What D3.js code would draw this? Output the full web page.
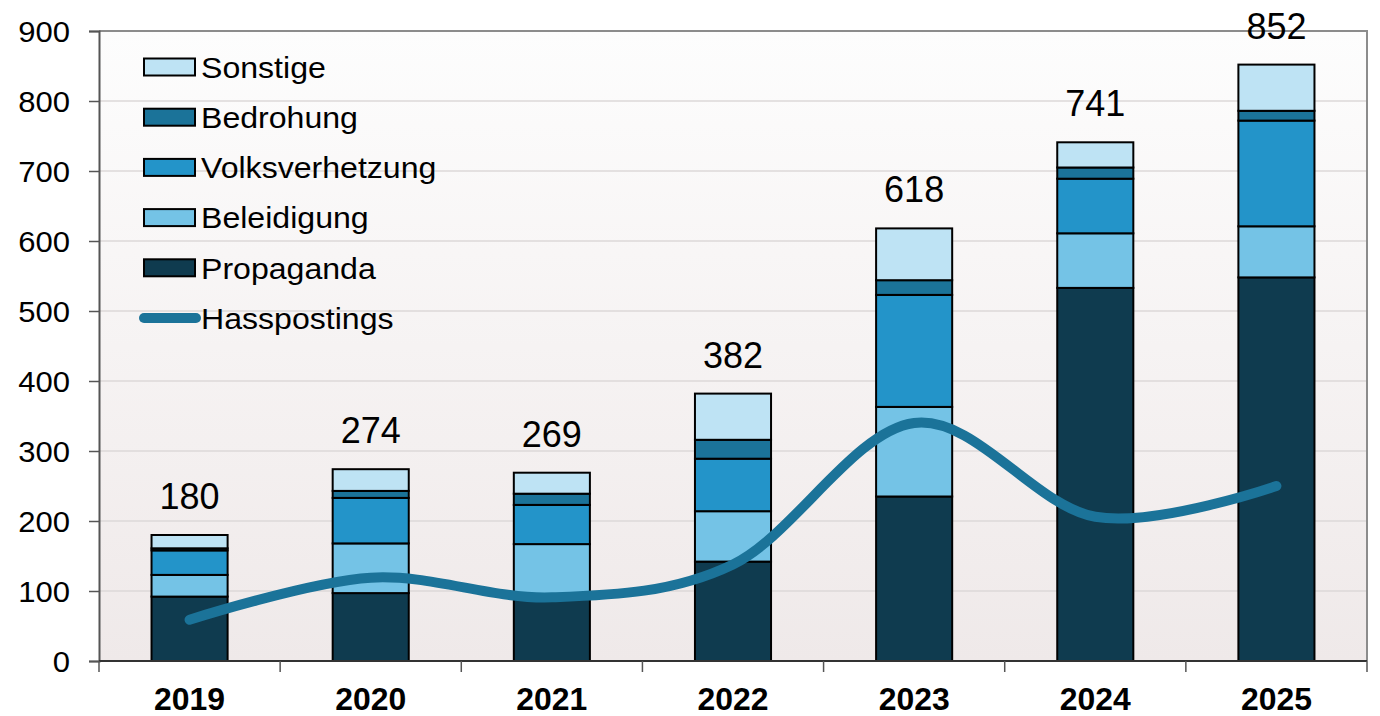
<!DOCTYPE html>
<html>
<head>
<meta charset="utf-8">
<script src="https://cdn.jsdelivr.net/npm/d3@7/dist/d3.min.js"></script>
<style>
  html, body { margin: 0; padding: 0; background: #ffffff; }
  svg { display: block; font-family: "Liberation Sans", Arial, sans-serif; }
</style>
</head>
<body>
<svg id="chart" width="1380" height="716"></svg>
<script>
const years = ["2019", "2020", "2021", "2022", "2023", "2024", "2025"];
const propaganda = [92, 97, 90, 142, 235, 533, 548];
const beleidigung = [31, 71, 77, 72, 128, 78, 73];
const volksverhetzung = [35, 65, 56, 75, 160, 78, 151];
const bedrohung = [3, 10, 16, 27, 21, 16, 14];
const sonstige = [19, 31, 30, 66, 74, 36, 66];
const totals = [180, 274, 269, 382, 618, 741, 852];
const hasspostings = [59, 119, 91, 138, 340, 206, 250];
const yTicks = [0, 100, 200, 300, 400, 500, 600, 700, 800, 900];

const seriesNames = ["Propaganda", "Beleidigung", "Volksverhetzung", "Bedrohung", "Sonstige"];
const seriesValues = [propaganda, beleidigung, volksverhetzung, bedrohung, sonstige];
const colors = {
  Propaganda: "#0f3b4f",
  Beleidigung: "#74c3e6",
  Volksverhetzung: "#2394c9",
  Bedrohung: "#1b7399",
  Sonstige: "#bee3f4"
};
const lineColor = "#1b7399";
const SX = 1.07; // horizontal stretch of text seen in the reference

const svg = d3.select("#chart");
const mLeft = 99, mRight = 1367, mTop = 31, mBottom = 661;

const x = d3.scaleBand().domain(years).range([mLeft, mRight]).paddingInner(0.58).paddingOuter(0.29);
const y = d3.scaleLinear().domain([0, 900]).range([mBottom, mTop]);

function stretch(sel, sx) {
  sel.each(function () {
    const t = d3.select(this);
    const tx = +t.attr("x") || 0, ty = +t.attr("y") || 0;
    t.attr("x", null).attr("y", null)
      .attr("transform", `translate(${tx},${ty}) scale(${sx},1)`);
  });
}

// background gradient
const defs = svg.append("defs");
const grad = defs.append("linearGradient").attr("id", "bg").attr("x1", 0).attr("y1", 0).attr("x2", 0).attr("y2", 1);
grad.append("stop").attr("offset", "0%").attr("stop-color", "#fdfdfd");
grad.append("stop").attr("offset", "100%").attr("stop-color", "#efe9e9");
svg.append("rect").attr("x", mLeft).attr("y", mTop).attr("width", mRight - mLeft).attr("height", mBottom - mTop).attr("fill", "url(#bg)");

// gridlines
svg.append("g").selectAll("line").data(yTicks.filter(d => d > 0 && d < 900)).join("line")
  .attr("x1", mLeft).attr("x2", mRight)
  .attr("y1", d => y(d)).attr("y2", d => y(d))
  .attr("stroke", "#dcd8d8").attr("stroke-width", 1.5);

// plot border top & right
svg.append("path")
  .attr("d", `M${mLeft},${mTop}H${mRight}V${mBottom}`)
  .attr("fill", "none").attr("stroke", "#8c8c8c").attr("stroke-width", 2);

// stacked bars
const table = years.map((yr, i) => {
  const o = { year: yr };
  seriesNames.forEach((n, k) => o[n] = seriesValues[k][i]);
  return o;
});
const stacked = d3.stack().keys(seriesNames)(table);
svg.append("g").selectAll("g").data(stacked).join("g")
  .attr("fill", d => colors[d.key])
  .selectAll("rect").data(d => d).join("rect")
  .attr("x", d => x(d.data.year))
  .attr("width", x.bandwidth())
  .attr("y", d => y(d[1]))
  .attr("height", d => y(d[0]) - y(d[1]))
  .attr("stroke", "#000").attr("stroke-width", 2);

// total labels
svg.append("g").selectAll("text").data(years).join("text")
  .attr("x", d => x(d) + x.bandwidth() / 2)
  .attr("y", (d, i) => y(totals[i]) - 26)
  .attr("text-anchor", "middle")
  .attr("font-size", 36)
  .attr("fill", "#000")
  .text((d, i) => totals[i]);

// line
const line = d3.line()
  .x((d, i) => x(years[i]) + x.bandwidth() / 2)
  .y(d => y(d))
  .curve(d3.curveCardinal.tension(0));
svg.append("path").datum(hasspostings)
  .attr("d", line)
  .attr("fill", "none").attr("stroke", lineColor).attr("stroke-width", 10)
  .attr("stroke-linecap", "round").attr("stroke-linejoin", "round");

// y axis
const yAxis = d3.axisLeft(y).tickValues(yTicks).tickSize(10).tickPadding(19);
const gy = svg.append("g").attr("transform", `translate(${mLeft},0)`).call(yAxis);
gy.select(".domain").attr("stroke", "#555").attr("stroke-width", 2);
gy.selectAll(".tick line").attr("stroke", "#555").attr("stroke-width", 1.5);
gy.selectAll(".tick text").attr("font-size", 29).attr("fill", "#000")
  .attr("font-family", "'Liberation Sans', Arial, sans-serif").attr("dy", "0.35em");
stretch(gy.selectAll(".tick text"), SX);

// x axis
const xAxis = d3.axisBottom(x).tickSize(0).tickPadding(27);
const gx = svg.append("g").attr("transform", `translate(0,${mBottom})`).call(xAxis);
gx.select(".domain").attr("stroke", "#333").attr("stroke-width", 2).attr("d", `M${mLeft},0H${mRight}`);
gx.selectAll(".tick text").attr("font-size", 31).attr("font-weight", "bold").attr("fill", "#000")
  .attr("font-family", "'Liberation Sans', Arial, sans-serif").attr("dy", "0.71em");
stretch(gx.selectAll(".tick text"), 1.03);
// category separator ticks
const step = x.step();
const sepX = d3.range(years.length + 1).map(i => mLeft + i * step);
svg.append("g").selectAll("line").data(sepX).join("line")
  .attr("x1", d => d).attr("x2", d => d)
  .attr("y1", mBottom).attr("y2", mBottom + 11)
  .attr("stroke", "#555").attr("stroke-width", 1.5);

// legend
const legendItems = ["Sonstige", "Bedrohung", "Volksverhetzung", "Beleidigung", "Propaganda"];
const lg = svg.append("g");
legendItems.forEach((n, i) => {
  const cy = 67 + i * 50.2;
  lg.append("rect").attr("x", 144).attr("y", cy - 8.5).attr("width", 51).attr("height", 17)
    .attr("fill", colors[n]).attr("stroke", "#000").attr("stroke-width", 2);
  lg.append("text").attr("class", "lt").attr("x", 201).attr("y", cy).attr("dy", "0.36em")
    .attr("font-size", 30).attr("fill", "#000").text(n);
});
const ly = 67 + 5 * 50.2;
lg.append("line").attr("x1", 144).attr("x2", 196).attr("y1", ly).attr("y2", ly)
  .attr("stroke", lineColor).attr("stroke-width", 10).attr("stroke-linecap", "round");
lg.append("text").attr("class", "lt").attr("x", 201).attr("y", ly).attr("dy", "0.36em")
  .attr("font-size", 30).attr("fill", "#000").text("Hasspostings");
stretch(lg.selectAll("text.lt"), SX);
</script>
</body>
</html>
